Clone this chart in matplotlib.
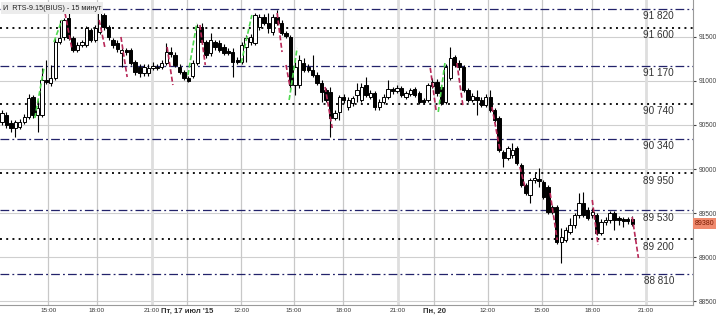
import matplotlib.pyplot as plt
import numpy as np

# 15-minute candles, RTS-9.15
opens = [90534, 90614, 90523, 90466, 90477, 90534, 90591, 90818, 90614, 90614,
         91011, 90977, 91034, 91443, 91500, 91716, 91488, 91352, 91409, 91409,
         91579, 91466, 91556, 91750, 91613, 91466, 91432, 91318, 91352, 91352,
         91216, 91159, 91091, 91091, 91148, 91159, 91159, 91204, 91329, 91295,
         91159, 91102, 91034, 91057, 91204, 91613, 91443, 91318, 91443, 91432,
         91386, 91341, 91329, 91238, 91216, 91386, 91443, 91432, 91613, 91727,
         91659, 91556, 91727, 91659, 91545, 91500, 90954, 90954, 91204, 91159,
         91125, 91068, 90977, 90898, 90875, 90580, 90648, 90818, 90704, 90750,
         90841, 90784, 90954, 90818, 90864, 90704, 90761, 90818, 90909, 90886,
         90920, 90818, 90852, 90909, 90864, 90784, 90784, 90943, 90988, 90932,
         90761, 91034, 91272, 91204, 91159, 90898, 90784, 90818, 90784, 90727,
         90818, 90670, 90580, 90193, 90125, 90159, 90239, 90046, 89818, 89705,
         89875, 89886, 89852, 89796, 89568, 89568, 89171, 89194, 89284, 89364,
         89478, 89614, 89534, 89478, 89478, 89273, 89398, 89420, 89500, 89443,
         89432, 89432, 89432]
highs = [90670, 90648, 90557, 90557, 90568, 90625, 90852, 90841, 90784, 91148,
         91238, 91182, 91488, 91693, 91716, 91772, 91511, 91443, 91466, 91625,
         91602, 91636, 91784, 91772, 91636, 91488, 91466, 91375, 91375, 91375,
         91238, 91193, 91193, 91193, 91216, 91193, 91238, 91432, 91386, 91329,
         91193, 91125, 91057, 91238, 91647, 91659, 91466, 91545, 91466, 91466,
         91420, 91375, 91375, 91272, 91443, 91522, 91534, 91772, 91761, 91761,
         91772, 91761, 91806, 91693, 91568, 91522, 91216, 91295, 91261, 91193,
         91295, 91102, 91011, 90920, 90932, 90670, 90841, 90852, 90818, 90829,
         90977, 90977, 91045, 90898, 90886, 90795, 90852, 91011, 90932, 90954,
         90943, 90886, 90920, 90932, 90886, 90807, 90977, 91034, 91023, 90954,
         91193, 91386, 91295, 91238, 91182, 90920, 90864, 90898, 90818, 90852,
         90898, 90693, 90602, 90216, 90261, 90295, 90261, 90068, 89841, 89898,
         89955, 90011, 89875, 89818, 89591, 89591, 89330, 89341, 89443, 89500,
         89728, 89739, 89568, 89557, 89500, 89432, 89455, 89523, 89523, 89466,
         89455, 89455, 89466]
lows = [90500, 90466, 90420, 90364, 90455, 90511, 90568, 90580, 90420, 90591,
        90966, 90943, 91011, 91420, 91466, 91466, 91329, 91329, 91386, 91386,
        91443, 91443, 91534, 91579, 91466, 91375, 91329, 91159, 91295, 91182,
        91068, 91045, 91057, 91057, 91125, 91125, 91136, 91182, 91272, 91159,
        91079, 91011, 90988, 91034, 91182, 91420, 91261, 91284, 91352, 91329,
        91295, 91295, 91045, 91193, 91193, 91216, 91409, 91409, 91579, 91636,
        91545, 91522, 91636, 91522, 91488, 90920, 90841, 90920, 91102, 91102,
        91045, 90954, 90761, 90761, 90364, 90557, 90557, 90750, 90670, 90716,
        90761, 90761, 90818, 90795, 90670, 90670, 90739, 90795, 90852, 90864,
        90818, 90795, 90829, 90818, 90739, 90739, 90761, 90920, 90829, 90727,
        90739, 91011, 91159, 91125, 90875, 90761, 90761, 90614, 90704, 90704,
        90648, 90534, 90193, 90023, 90102, 90125, 90046, 89796, 89705, 89614,
        89841, 89796, 89659, 89489, 89489, 89148, 88932, 89171, 89261, 89330,
        89443, 89455, 89420, 89443, 89250, 89250, 89364, 89386, 89307, 89364,
        89341, 89375, 89352]
closes = [90636, 90500, 90466, 90534, 90534, 90591, 90807, 90614, 90693, 91011,
          90988, 91034, 91443, 91488, 91693, 91488, 91352, 91409, 91443, 91602,
          91466, 91602, 91772, 91613, 91500, 91409, 91363, 91352, 91329, 91204,
          91102, 91091, 91159, 91148, 91170, 91148, 91204, 91329, 91307, 91182,
          91102, 91034, 91000, 91204, 91613, 91443, 91295, 91466, 91386, 91352,
          91318, 91318, 91216, 91216, 91409, 91488, 91500, 91750, 91727, 91659,
          91602, 91727, 91659, 91545, 91511, 90954, 91159, 91238, 91125, 91125,
          91068, 90977, 90875, 90784, 90580, 90636, 90818, 90784, 90784, 90807,
          90898, 90932, 90841, 90864, 90704, 90761, 90818, 90909, 90886, 90920,
          90841, 90864, 90898, 90841, 90761, 90761, 90954, 90988, 90864, 90750,
          91159, 91261, 91182, 91159, 90898, 90784, 90829, 90784, 90727, 90818,
          90670, 90557, 90216, 90125, 90239, 90216, 90068, 89818, 89728, 89875,
          89898, 89864, 89682, 89512, 89512, 89171, 89228, 89307, 89364, 89478,
          89614, 89478, 89443, 89512, 89273, 89398, 89420, 89500, 89420, 89420,
          89409, 89409, 89380]

# support / resistance levels
levels_dashdot = [91820, 91170, 90340, 89530, 88810]
levels_dotted = [91600, 90740, 89950, 89200]

# trend strokes (bar index, price)
up_strokes = [((7.4, 90580), (9.5, 91159)), ((11.7, 91443), (13.5, 91693)),
              ((41.9, 91068), (43.9, 91659)), ((53.9, 91204), (56.3, 91750)),
              ((64.7, 90784), (66.5, 91375)), ((98.3, 90648), (99.8, 91204))]
down_strokes = [((14.2, 91772), (15.8, 91352)), ((21.9, 91693), (23.2, 91375)),
                ((26.8, 91500), (28.2, 91045)), ((37.2, 91386), (38.5, 90954)),
                ((44.6, 91636), (45.8, 91182)), ((62.0, 91772), (63.1, 91329)),
                ((64.0, 91182), (64.9, 90932)), ((72.8, 90932), (74.4, 90466)),
                ((96.5, 91148), (97.8, 90670)), ((102.5, 91204), (103.9, 90704)),
                ((110.4, 90704), (112.2, 90216)), ((116.7, 90023), (117.9, 89784)),
                ((123.5, 89728), (125.1, 89194)), ((133.0, 89648), (134.3, 89137)),
                ((142.0, 89455), (143.4, 88990))]

tick_pos = [10.4, 21.4, 33.8, 41.7, 53.9, 65.8, 76.9, 89.2, 97.4, 109.5, 121.7, 133.0, 145.1]
tick_lbl = ['15:00', '18:00', '21:00', "Пт, 17 июл '15", '12:00', '15:00', '18:00',
            '21:00', 'Пн, 20', '12:00', '15:00', '18:00', '21:00']
bold_ticks = ["Пт, 17 июл '15", 'Пн, 20']

plt.rcParams['font.family'] = ['Liberation Sans', 'DejaVu Sans']

fig = plt.figure(figsize=(7.2, 3.18), dpi=100)
ax = fig.add_axes([0, 13 / 318, 693 / 720, 1 - 13 / 318])

o = np.array(opens)
h = np.array(highs)
l = np.array(lows)
c = np.array(closes)
x = np.arange(len(o))

# grid
for yv in range(88500, 92000, 500):
    ax.axhline(yv, color='#cfcfcf', lw=0.8, zorder=0)
for p, t in zip(tick_pos, tick_lbl):
    if t == '21:00':
        ax.axvline(p, color='#dedede', lw=2.0, zorder=0)
    else:
        ax.axvline(p, color='#c8c8c8', lw=0.9, zorder=0)

# levels
for lv in levels_dashdot:
    ax.axhline(lv, color='#22226a', lw=0.9, dashes=(7, 2.5, 1.5, 2.5), zorder=1)
for lv in levels_dotted:
    ax.axhline(lv, color='#111111', lw=1.4, dashes=(1, 2.2), zorder=1)
for lv in levels_dashdot + levels_dotted:
    ax.text(148.0, lv - 82, f'{lv // 1000} {lv % 1000:03d}', ha='center', va='center',
            fontsize=7.2, color='#333333', zorder=5)

# candles
ax.vlines(x, l, h, color='black', lw=0.8, zorder=2)
up = c >= o
body_bot = np.minimum(o, c)
body_h = np.maximum(np.abs(c - o), 12)
ax.bar(x, body_h, bottom=body_bot, width=0.75,
       color=np.where(up, 'white', 'black'), edgecolor='black', lw=0.7, zorder=3)

for (x0, y0), (x1, y1) in up_strokes:
    ax.plot([x0, x1], [y0, y1], color='#50d850', lw=1.2, dashes=(3, 1.5), zorder=4)
for (x0, y0), (x1, y1) in down_strokes:
    ax.plot([x0, x1], [y0, y1], color='#b82858', lw=1.2, dashes=(3, 1.5), zorder=4)

ax.set_xlim(-0.45, 155.7)
ax.set_ylim(88455, 91920)

ax.yaxis.tick_right()
ax.set_yticks(range(88500, 92000, 500))
ax.set_yticklabels([str(v) for v in range(88500, 92000, 500)])
ax.tick_params(axis='y', labelsize=4.8, length=2, pad=2, colors='#444444')
ax.set_xticks(tick_pos)
ax.set_xticklabels(tick_lbl)
ax.tick_params(axis='x', labelsize=4.6, length=0, pad=2, colors='#333333')
for lab in ax.get_xticklabels():
    if lab.get_text() in bold_ticks:
        lab.set_fontweight('bold')
        lab.set_fontsize(5.6)

for s in ['left', 'top']:
    ax.spines[s].set_visible(False)
for s in ['right', 'bottom']:
    ax.spines[s].set_color('#9a9a9a')
    ax.spines[s].set_linewidth(0.8)

# last price marker
ax.text(1.002, 89380, '89380', transform=ax.get_yaxis_transform(), ha='left', va='center',
        fontsize=5, color='#7a1a00', zorder=6,
        bbox=dict(boxstyle='square,pad=0.25', facecolor='#f08a6e', edgecolor='none'))

ax.text(0.004, 0.985, 'И  RTS-9.15(BIUS) - 15 минут', transform=ax.transAxes, ha='left', va='top',
        fontsize=5.2, color='#222222', zorder=6,
        bbox=dict(boxstyle='square,pad=0.3', facecolor='#ececec', edgecolor='none'))

fig.savefig('out.png', dpi=100)
